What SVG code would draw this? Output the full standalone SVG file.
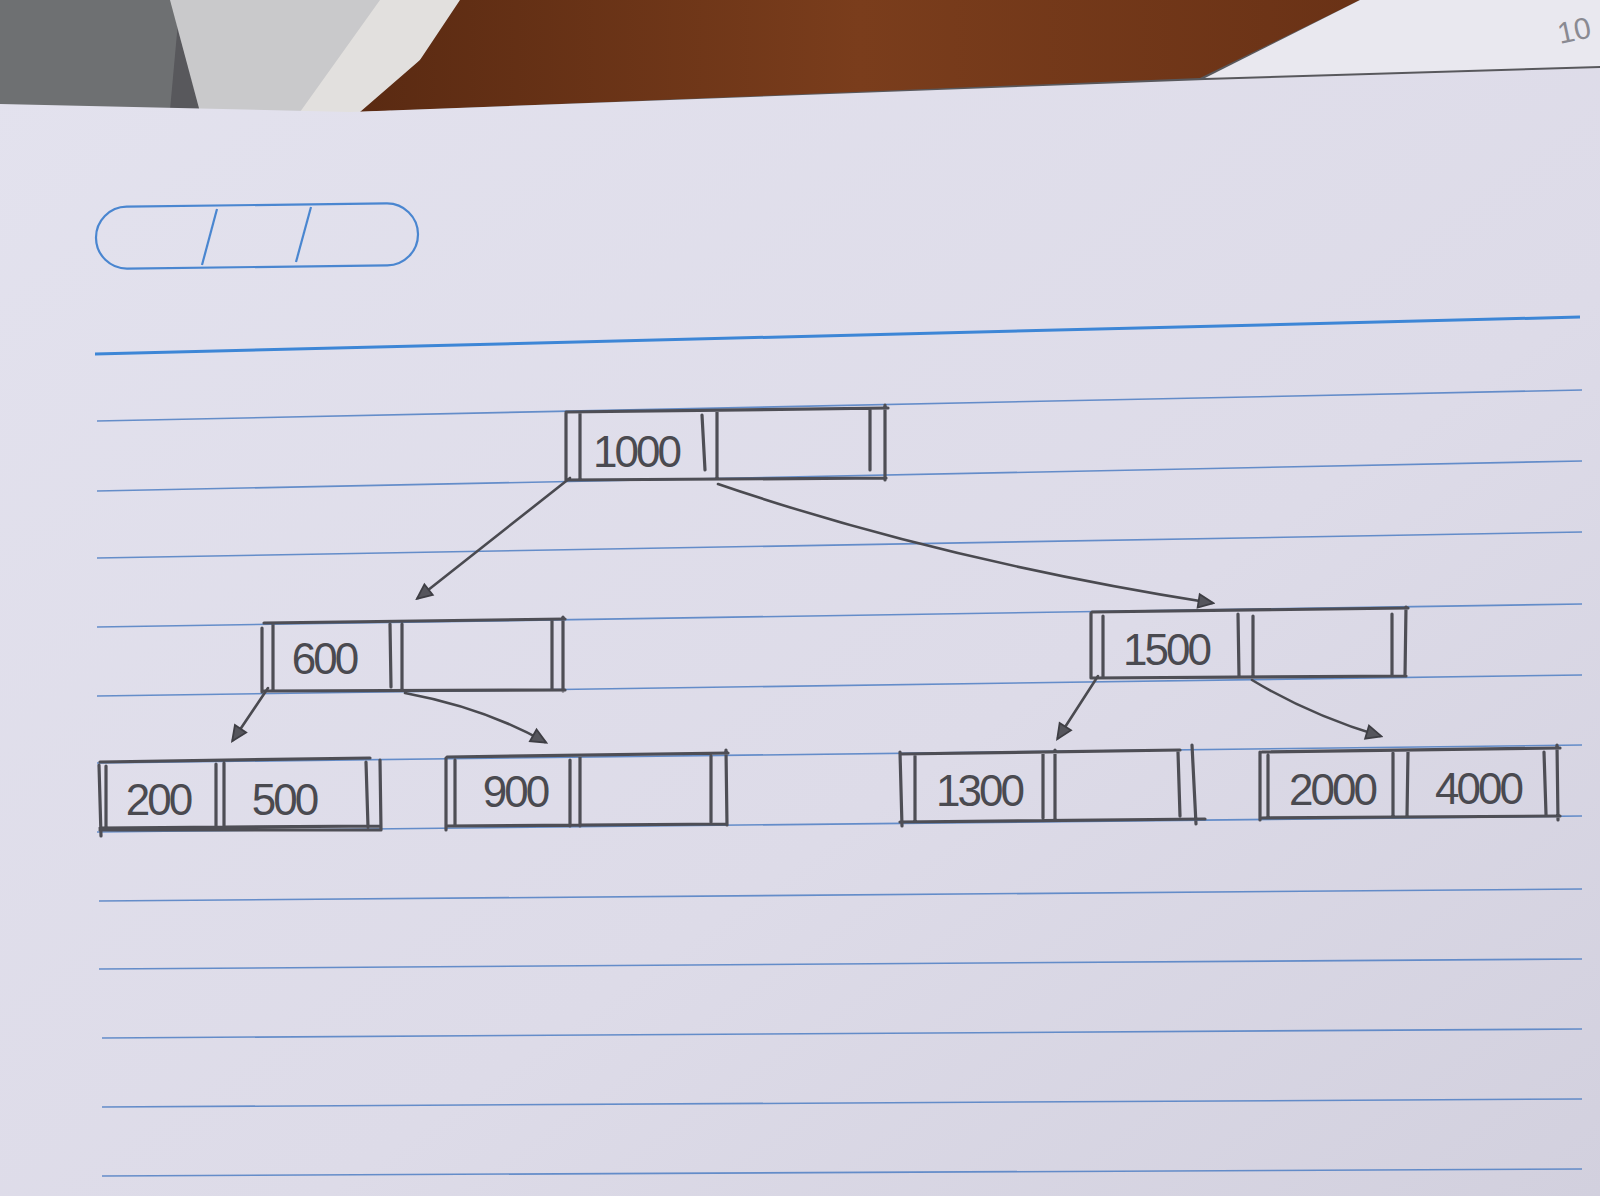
<svg xmlns="http://www.w3.org/2000/svg" width="1600" height="1196" viewBox="0 0 1600 1196">
<defs>
<linearGradient id="paper" x1="0" y1="0" x2="1" y2="1">
<stop offset="0" stop-color="#e3e2ee"/>
<stop offset="0.6" stop-color="#dddbe8"/>
<stop offset="1" stop-color="#d2d0de"/>
</linearGradient>
<linearGradient id="wood" x1="0" y1="0" x2="1" y2="0">
<stop offset="0" stop-color="#5a2a12"/>
<stop offset="0.5" stop-color="#7a3d1c"/>
<stop offset="1" stop-color="#6a3216"/>
</linearGradient>
<marker id="arr" viewBox="0 0 12 12" refX="10" refY="6" markerWidth="18" markerHeight="18" markerUnits="userSpaceOnUse" orient="auto">
<path d="M1,1.5 L11,6 L1,10.5 Z" fill="#55555c" stroke="#3e3e44" stroke-width="1.2"/>
</marker>
<style>
.rule{stroke:#4f7fc4;stroke-width:1.6;fill:none;opacity:0.85}
.pen{stroke:#4e4e55;stroke-width:3.2;fill:none;stroke-linecap:round}
.conn{stroke:#4a4a50;stroke-width:2.6;fill:none;stroke-linecap:round}
.num{font-family:"Liberation Sans","DejaVu Sans",sans-serif;font-size:44px;fill:#4a4a50;text-anchor:middle;letter-spacing:-3px}
</style>
</defs>

<!-- background scene -->
<rect x="0" y="0" width="1600" height="200" fill="#58585c"/>
<polygon points="0,0 180,0 170,110 0,110" fill="#6e7072"/>
<polygon points="170,0 460,0 420,60 380,112 200,112" fill="#c9c9cb"/>
<polygon points="380,0 480,0 440,40 410,70 390,112 300,112" fill="#e8e6e2" opacity="0.8"/>
<polygon points="460,0 1360,0 1200,78 360,112 420,60" fill="url(#wood)"/>
<polygon points="1360,0 1600,0 1600,66 1205,78" fill="#e9e8ef"/>
<text x="1560" y="44" font-family="Liberation Sans, sans-serif" font-size="30" fill="#8a8a92" transform="rotate(-12 1560 44)">10</text>

<!-- paper -->
<polygon points="0,104 350,112 1205,80 1600,68 1600,1196 0,1196" fill="url(#paper)"/>

<!-- header rounded box -->
<g fill="none" stroke="#4a86d0" stroke-width="2.2">
<rect x="96" y="205" width="322" height="62" rx="31" ry="31" transform="rotate(-0.7 257 236)"/>
<line x1="217" y1="209" x2="202" y2="265"/>
<line x1="311" y1="207" x2="296" y2="262"/>
</g>
<line x1="95" y1="354" x2="1580" y2="317" stroke="#3d86d6" stroke-width="3"/>

<!-- ruled lines -->
<g class="rule">
<line x1="97" y1="421" x2="1582" y2="390"/>
<line x1="97" y1="491" x2="1582" y2="461"/>
<line x1="97" y1="558" x2="1582" y2="532"/>
<line x1="97" y1="627" x2="1582" y2="604"/>
<line x1="97" y1="696" x2="1582" y2="675"/>
<line x1="97" y1="763" x2="1582" y2="745"/>
<line x1="97" y1="832" x2="1582" y2="816"/>
<line x1="99" y1="901" x2="1582" y2="889"/>
<line x1="99" y1="969" x2="1582" y2="959"/>
<line x1="102" y1="1038" x2="1582" y2="1029"/>
<line x1="102" y1="1107" x2="1582" y2="1099"/>
<line x1="102" y1="1176" x2="1582" y2="1169"/>
</g>

<!-- nodes -->
<g id="node-1000">
<path class="pen" d="M566,412 L888,408 M566,480 L886,478 M566,413 L566,480 M580,413 L580,480 M702,415 L705,470 M717,412 L717,478 M870,410 L870,470 M885,405 L885,480"/>
<text class="num" x="636" y="467">1000</text>
</g>
<g id="node-600">
<path class="pen" d="M264,623 L565,619 M264,691 L565,690 M262,628 L262,692 M273,624 L273,691 M390,624 L391,687 M402,624 L402,689 M552,620 L552,690 M563,617 L563,691"/>
<text class="num" x="324" y="674">600</text>
</g>
<g id="node-1500">
<path class="pen" d="M1092,612 L1408,608 M1092,678 L1406,676 M1091,613 L1091,678 M1103,616 L1103,676 M1238,614 L1239,676 M1253,616 L1253,676 M1392,614 L1392,676 M1406,607 L1405,676"/>
<text class="num" x="1166" y="665">1500</text>
</g>
<g id="node-200-500">
<path class="pen" d="M100,762 L370,758 M100,830 L380,830 M100,828 L380,826 M99,765 L101,836 M106,766 L106,830 M216,764 L216,827 M224,763 L224,828 M366,762 L368,827 M380,760 L381,830"/>
<text class="num" x="158" y="815">200</text>
<text class="num" x="284" y="815">500</text>
</g>
<g id="node-900">
<path class="pen" d="M447,757 L728,753 M447,826 L726,824 M446,758 L446,830 M455,760 L455,824 M570,760 L570,826 M580,757 L580,826 M711,756 L711,822 M726,750 L727,825"/>
<text class="num" x="515" y="807">900</text>
</g>
<g id="node-1300">
<path class="pen" d="M900,754 L1180,750 M900,822 L1205,819 M900,752 L902,826 M915,756 L915,822 M1043,754 L1043,818 M1055,750 L1055,820 M1178,752 L1180,816 M1192,745 L1196,824"/>
<text class="num" x="979" y="806">1300</text>
</g>
<g id="node-2000-4000">
<path class="pen" d="M1262,752 L1560,748 M1262,818 L1560,816 M1260,752 L1260,820 M1268,755 L1268,818 M1393,753 L1393,816 M1408,752 L1407,816 M1544,752 L1546,814 M1557,745 L1558,820"/>
<text class="num" x="1332" y="805">2000</text>
<text class="num" x="1478" y="804">4000</text>
</g>

<!-- connectors -->
<g id="connectors">
<path class="conn" d="M570,478 L418,598" marker-end="url(#arr)"/>
<path class="conn" d="M718,484 Q940,560 1212,603" marker-end="url(#arr)"/>
<path class="conn" d="M268,688 L233,740" marker-end="url(#arr)"/>
<path class="conn" d="M405,693 Q485,708 545,742" marker-end="url(#arr)"/>
<path class="conn" d="M1098,676 L1058,738" marker-end="url(#arr)"/>
<path class="conn" d="M1252,680 Q1310,715 1380,736" marker-end="url(#arr)"/>
</g>
</svg>
